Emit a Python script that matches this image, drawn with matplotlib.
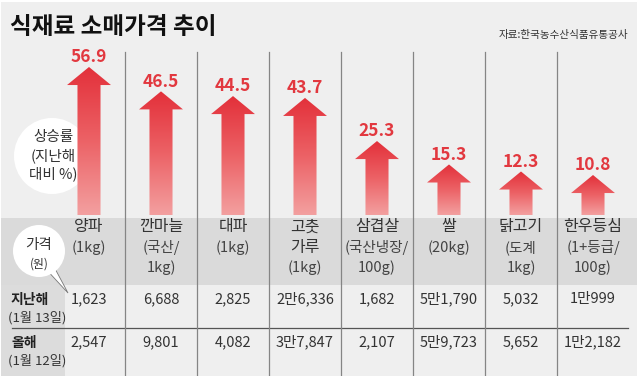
import matplotlib
matplotlib.use('Agg')
import matplotlib.pyplot as plt
import numpy as np
from matplotlib.patches import Rectangle, Circle, Polygon
from matplotlib.colors import LinearSegmentedColormap
import matplotlib.transforms as mtransforms

plt.rcParams['font.family'] = ['Noto Sans CJK KR', 'DejaVu Sans']

# ---------------- data ----------------
title = '식재료 소매가격 추이'
source = '자료:한국농수산식품유통공사'
item_names = [['양파'], ['깐마늘'], ['대파'], ['고춧', '가루'], ['삼겹살'], ['쌀'], ['닭고기'], ['한우등심']]
item_units = [['(1kg)'], ['(국산/', '1kg)'], ['(1kg)'], ['(1kg)'], ['(국산냉장/', '100g)'],
              ['(20kg)'], ['(도계', '1kg)'], ['(1+등급/', '100g)']]
rise = [56.9, 46.5, 44.5, 43.7, 25.3, 15.3, 12.3, 10.8]
last_year = ['1,623', '6,688', '2,825', '2만6,336', '1,682', '5만1,790', '5,032', '1만999']
this_year = ['2,547', '9,801', '4,082', '3만7,847', '2,107', '5만9,723', '5,652', '1만2,182']
row_labels = [('지난해', '(1월 13일)'), ('올해', '(1월 12일)')]
rise_label = ['상승률', '(지난해', '대비 %)']
price_label = ['가격', '(원)']

# ---------------- figure ----------------
W, H = 640, 376
fig = plt.figure(figsize=(W / 100, H / 100), dpi=100)
fig.patch.set_facecolor('white')

ax_bg = fig.add_axes([0, 0, 1, 1])
ax_bg.set_xlim(0, W)
ax_bg.set_ylim(H, 0)
ax_bg.axis('off')

BASE_PX = 215
TOP_PX = 40
ax_arr = fig.add_axes([53 / W, (H - BASE_PX) / H, 576 / W, (BASE_PX - TOP_PX) / H])
ax_arr.patch.set_visible(False)
ax_arr.axis('off')
y0, y1 = -6.27, 68.42
ax_arr.set_xlim(-0.5, len(rise) - 0.5)
ax_arr.set_ylim(y0, y1)

# backgrounds
ax_bg.add_patch(Rectangle((1, 2), 636, H - 2, color='#efefef', lw=0, zorder=0))
ax_bg.add_patch(Rectangle((1, 218), 636, 67, color='#dadada', lw=0, zorder=1))
ax_bg.add_patch(Rectangle((1, 285), 64, H - 285, color='#dcdcdc', lw=0, zorder=1))

# title & source
ax_bg.text(10, 27, title, fontsize=17, fontweight='bold', color='#111111', ha='left', va='center', zorder=5)
ax_bg.text(628, 35, source, fontsize=7.6, color='#333333', ha='right', va='center', zorder=5)

# circles
ax_bg.add_patch(Circle((52, 156), 38, fc='white', ec='none', zorder=2))
for k, t in enumerate(rise_label):
    ax_bg.text(53, 137 + 18.5 * k, t, fontsize=10.5, color='#333333', ha='center', va='center', zorder=3)
ax_bg.add_patch(Polygon([(44, 267), (52, 263), (68, 293)], closed=True, fc='white', ec='#777777', lw=0.6, zorder=2))
ax_bg.add_patch(Circle((39, 251), 26, fc='white', ec='none', zorder=2))
ax_bg.text(39, 245, price_label[0], fontsize=10.5, color='#333333', ha='center', va='center', zorder=3)
ax_bg.text(39, 264, price_label[1], fontsize=8.5, color='#333333', ha='center', va='center', zorder=3)

# horizontal separator
ax_bg.plot([12, 628], [328, 328], color='#555555', lw=0.9, zorder=3)

# row labels
for r, (lab, date) in enumerate(row_labels):
    yb = 300 + 43 * r
    ax_bg.text(11, yb, lab, fontsize=10, fontweight='bold', color='#222222', ha='left', va='center', zorder=3)
    ax_bg.text(8, yb + 18, date, fontsize=9.5, color='#333333', ha='left', va='center', zorder=3)

# arrows with gradient
cmap = LinearSegmentedColormap.from_list('arr', ['#f3a0a0', '#ec6266', '#e3303a'])
grad = np.linspace(0, 1, 256).reshape(-1, 1)
hw_s, hw_h, hl = 0.16, 0.305, 7.7
for i, v in enumerate(rise):
    pts = [(i - hw_s, y0), (i - hw_s, v - hl), (i - hw_h, v - hl), (i, v),
           (i + hw_h, v - hl), (i + hw_s, v - hl), (i + hw_s, y0)]
    poly = Polygon(pts, closed=True, fc='none', ec='none')
    ax_arr.add_patch(poly)
    im = ax_arr.imshow(grad, cmap=cmap, origin='lower', aspect='auto',
                       extent=(i - hw_h, i + hw_h, y0, v), zorder=2)
    im.set_clip_path(poly)
    ax_arr.annotate(f'{v}', (i, v), xytext=(0, 7), textcoords='offset points',
                    ha='center', va='center', fontsize=12.5, fontweight='bold', color='#e2383f')
ax_arr.set_xlim(-0.5, len(rise) - 0.5)
ax_arr.set_ylim(y0, y1)

# column separators
pix_per_y = BASE_PX - TOP_PX
for i in range(len(rise) - 1):
    ax_arr.axvline(i + 0.5, ymin=(BASE_PX - H) / pix_per_y, ymax=(BASE_PX - 52) / pix_per_y,
                   color='#858585', lw=0.9, clip_on=False, zorder=1)

# table texts (x from category scale, y in pixels)
trans = mtransforms.blended_transform_factory(ax_arr.transData, ax_bg.transData)
for i in range(len(rise)):
    lines = [(t, True) for t in item_names[i]] + [(t, False) for t in item_units[i]]
    for k, (t, is_name) in enumerate(lines):
        ax_bg.text(i, 227 + 20.5 * k, t, transform=trans, fontsize=11.5 if is_name else 10.5,
                   color='#333333' if is_name else '#444444', ha='center', va='center', zorder=4)
    ax_bg.text(i, 299, last_year[i], transform=trans, fontsize=10.5, color='#333333',
               ha='center', va='center', zorder=4)
    ax_bg.text(i, 342, this_year[i], transform=trans, fontsize=10.5, color='#333333',
               ha='center', va='center', zorder=4)

fig.savefig('out.png', dpi=100, facecolor=fig.get_facecolor())
